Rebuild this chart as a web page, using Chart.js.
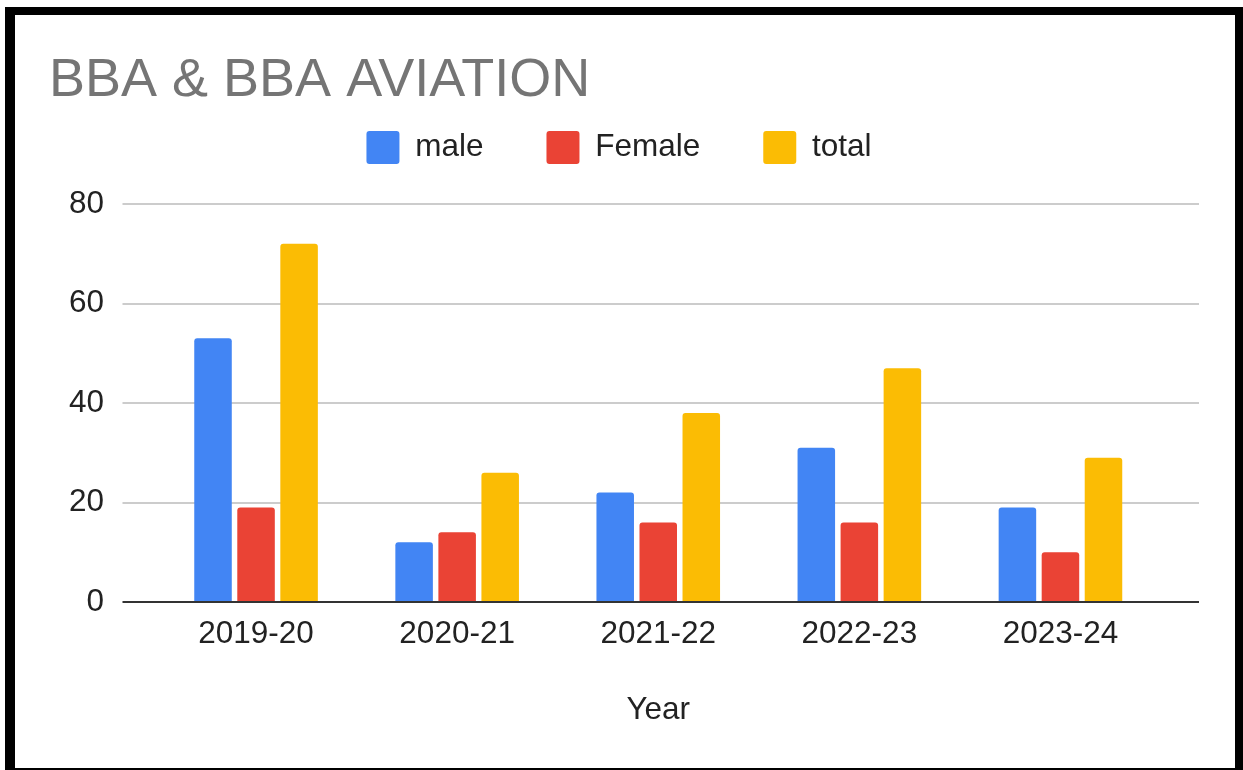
<!DOCTYPE html>
<html>
<head>
<meta charset="utf-8">
<script src="https://cdn.jsdelivr.net/npm/chart.js@4.4.1/dist/chart.umd.min.js"></script>
<style>
  html, body { margin: 0; padding: 0; background: #fff; overflow: hidden; }
  .frame {
    position: absolute; left: 5px; top: 7px;
    width: 1220px; height: 753px;
    border-style: solid; border-color: #000;
    border-width: 8px 8px 8px 10px;
    background: #fff;
  }
  .frame canvas { display: block; }
</style>
</head>
<body>
<div class="frame"><canvas id="bbaChart" width="1220" height="753"></canvas></div>
<script>
const years = ['2019-20', '2020-21', '2021-22', '2022-23', '2023-24'];
const male = [53, 12, 22, 31, 19];
const female = [19, 14, 16, 16, 10];
const total = [72, 26, 38, 47, 29];
const yTicks = { min: 0, max: 80, step: 20 };

const FONT = '"Liberation Sans", Arial, Helvetica, sans-serif';
const SIZE = 31.5;
const gridColor = (c) => (c.tick && c.tick.value === 0) ? '#333333' : '#cccccc';

// legend sits high, push the plot area down a bit
const legendGap = {
    id: 'legendGap',
    beforeInit(chart) {
        const fit = chart.legend.fit;
        chart.legend.fit = function () {
            fit.bind(this)();
            this.height += 30;
        };
    }
};

const ctx = document.getElementById('bbaChart').getContext('2d');
new Chart(ctx, {
    type: 'bar',
    data: {
        labels: years,
        datasets: [
            { label: 'male', data: male, backgroundColor: '#4285F4' },
            { label: 'Female', data: female, backgroundColor: '#EA4335' },
            { label: 'total', data: total, backgroundColor: '#FBBC04' }
        ]
    },
    options: {
        responsive: false,
        animation: false,
        layout: { padding: { left: 34, right: 46, top: 0, bottom: 39 } },
        datasets: {
            bar: {
                categoryPercentage: 0.642,
                barPercentage: 0.872,
                borderRadius: 3
            }
        },
        scales: {
            x: {
                grid: { display: false, drawTicks: false },
                border: { display: false },
                ticks: { color: '#222', font: { family: FONT, size: SIZE }, padding: 13 },
                title: {
                    display: true,
                    text: 'Year',
                    color: '#222',
                    font: { family: FONT, size: SIZE },
                    padding: { top: 25.4, bottom: 0 }
                }
            },
            y: {
                min: yTicks.min,
                max: yTicks.max,
                ticks: { stepSize: yTicks.step, color: '#222', font: { family: FONT, size: SIZE }, padding: 18.5 },
                grid: { color: gridColor, lineWidth: 2, tickLength: 33 },
                border: { display: false },
                afterFit(scale) { scale.width = 106.5; }
            },
            y2: {
                position: 'right',
                min: yTicks.min,
                max: yTicks.max,
                ticks: { stepSize: yTicks.step, display: false },
                grid: { color: gridColor, lineWidth: 2, tickLength: 38, drawOnChartArea: false },
                border: { display: false },
                afterFit(scale) { scale.width = 28; }
            }
        },
        plugins: {
            title: {
                display: true,
                text: 'BBA & BBA AVIATION',
                align: 'start',
                color: '#757575',
                font: { family: FONT, size: 54, weight: 'normal' },
                padding: { top: 34, bottom: -45.8 }
            },
            legend: {
                position: 'top',
                labels: {
                    boxWidth: 33,
                    boxHeight: 33,
                    useBorderRadius: true,
                    borderRadius: 3,
                    padding: 63,
                    color: '#222',
                    font: { family: FONT, size: SIZE }
                }
            },
            tooltip: { enabled: false }
        }
    },
    plugins: [legendGap]
});
</script>
</body>
</html>
